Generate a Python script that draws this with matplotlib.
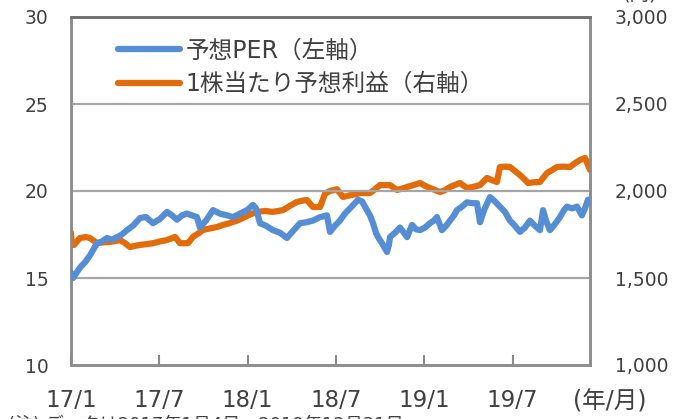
import matplotlib.pyplot as plt

plt.rcParams['font.family'] = ['DejaVu Sans', 'Noto Sans CJK JP']

# months elapsed since 2017/1 (position on the category axis)
per_months = [0.0, 0.14, 0.61, 0.95, 1.29, 1.77, 2.11, 2.45, 2.79, 3.13, 3.46, 3.80, 4.21, 4.69,
              5.10, 5.57, 6.05, 6.52, 6.86, 7.20, 7.54, 7.88, 8.22, 8.56, 8.76, 9.17, 9.65, 10.12,
              10.60, 11.01, 11.48, 11.96, 12.36, 12.57, 12.84, 13.25, 13.72, 14.20, 14.67, 15.08,
              15.56, 15.96, 16.44, 16.92, 17.39, 17.60, 17.93, 18.27, 18.61, 18.95, 19.29, 19.50,
              19.77, 19.97, 20.31, 20.52, 20.72, 20.86, 21.13, 21.33, 21.47, 21.60, 21.67, 22.01,
              22.35, 22.62, 22.83, 23.17, 23.44, 23.71, 24.05, 24.39, 24.66, 24.86, 25.20, 25.48,
              25.75, 26.02, 26.22, 26.56, 26.90, 27.24, 27.58, 27.79, 28.06, 28.47, 28.80, 29.14,
              29.48, 29.82, 30.16, 30.50, 30.84, 31.18, 31.52, 31.86, 32.07, 32.27, 32.54, 32.88,
              33.22, 33.49, 33.70, 34.04, 34.38, 34.71, 34.92, 35.12, 35.26]
per_values = [15.3, 15.0, 15.6, 15.9, 16.3, 17.0, 17.1, 17.3, 17.2, 17.35, 17.5, 17.75, 18.0, 18.45,
              18.5, 18.15, 18.4, 18.8, 18.6, 18.35, 18.6, 18.7, 18.6, 18.5, 17.9, 18.3, 18.9, 18.7,
              18.6, 18.5, 18.7, 18.9, 19.2, 19.0, 18.15, 18.0, 17.75, 17.6, 17.3, 17.7,
              18.15, 18.2, 18.3, 18.5, 18.6, 17.65, 18.0, 18.3, 18.7, 19.0, 19.3, 19.5,
              19.4, 19.1, 18.6, 18.15, 17.6, 17.35, 17.0, 16.7, 16.5, 16.9, 17.35, 17.6,
              17.9, 17.6, 17.35, 18.05, 17.8, 17.75, 17.9, 18.15, 18.3, 18.5, 17.75, 18.0,
              18.3, 18.6, 18.9, 19.1, 19.35, 19.3, 19.3, 18.2, 18.9, 19.65, 19.4, 19.1,
              18.8, 18.3, 18.0, 17.65, 17.9, 18.3, 18.0, 17.75, 18.9, 18.3, 17.75, 18.1,
              18.5, 18.9, 19.1, 19.0, 19.1, 18.6, 19.0, 19.5, 19.5]

eps_months = [0.0, 0.05, 0.2, 0.61, 1.02, 1.29, 1.77, 2.17, 2.65, 2.99, 3.33, 3.67, 4.01, 4.35,
              4.69, 5.16, 5.57, 6.05, 6.52, 7.07, 7.40, 7.95, 8.29, 8.63, 8.97, 9.44, 9.92, 10.33,
              10.80, 11.28, 11.68, 12.16, 12.64, 13.18, 13.72, 14.40, 14.88, 15.35, 15.76, 16.03,
              16.44, 16.92, 17.26, 17.60, 18.07, 18.48, 18.95, 19.63, 20.31, 20.65, 20.99, 21.67,
              22.15, 22.55, 22.83, 23.30, 23.71, 24.05, 24.39, 25.07, 25.41, 25.75, 26.09, 26.43,
              26.90, 27.38, 27.79, 28.26, 28.67, 28.94, 29.14, 29.48, 29.82, 30.16, 30.50, 30.84,
              31.05, 31.45, 31.86, 32.34, 32.68, 33.02, 33.42, 33.90, 34.24, 34.58, 34.92, 35.12,
              35.26]
eps_values = [1760, 1700, 1690, 1730, 1735, 1730, 1700, 1705, 1707, 1712, 1718, 1700, 1678, 1685,
              1690, 1695, 1700, 1710, 1718, 1736, 1700, 1700, 1736, 1755, 1776, 1785, 1793, 1805,
              1816, 1830, 1845, 1865, 1880, 1885, 1880, 1890, 1915, 1937, 1945, 1948,
              1908, 1908, 1985, 2000, 2010, 1966, 1975, 1988, 1988, 2010, 2034, 2034,
              2006, 2015, 2023, 2035, 2046, 2030, 2017, 1994, 2005, 2023, 2035, 2046,
              2017, 2025, 2034, 2075, 2060, 2052, 2138, 2140, 2138, 2115, 2092, 2065,
              2046, 2050, 2052, 2103, 2120, 2138, 2140, 2138, 2160, 2178, 2190, 2150,
              2121]

tick_months = [0, 6, 12, 18, 24, 30]
tick_labels = ['17/1', '17/7', '18/1', '18/7', '19/1', '19/7']

blue = '#558ED5'
orange = '#E36C0A'
grid_c = '#A6A6A6'
axis_c = '#8C8C8C'
text_c = '#404040'

fig = plt.figure(figsize=(6.78, 4.19), dpi=100)
ax = fig.add_axes([71 / 678, 1 - 365 / 419, 519 / 678, 348 / 419])
ax2 = ax.twinx()

l1, = ax.plot(per_months, per_values, color=blue, lw=4.5, solid_capstyle='round', zorder=3)
l2, = ax2.plot(eps_months, eps_values, color=orange, lw=4.5, solid_capstyle='round', zorder=3)

ax.set_xlim(0, 35.26)
ax.set_ylim(10, 30)
ax2.set_ylim(1000, 3000)
ax.set_yticks([10, 15, 20, 25, 30])
ax2.set_yticks([1000, 1500, 2000, 2500, 3000])
ax2.set_yticklabels(['1,000', '1,500', '2,000', '2,500', '3,000'])
ax.set_xticks(tick_months)
ax.set_xticklabels(tick_labels)

for y in [15, 20, 25]:
    ax.axhline(y, color=grid_c, lw=1.6, zorder=1)

for a in (ax, ax2):
    for s in a.spines.values():
        s.set_color(axis_c)
        s.set_linewidth(1.8)
    a.spines['top'].set_color('#6E6E6E')
ax.tick_params(axis='x', direction='in', length=7, width=1.5, color=axis_c,
               pad=17, labelsize=16.5, labelcolor=text_c)
ax.tick_params(axis='y', length=0, pad=16, labelsize=13.5, labelcolor=text_c)
ax2.tick_params(axis='y', length=0, pad=18, labelsize=13.5, labelcolor=text_c)

ax.set_zorder(ax2.get_zorder() + 1)
ax.patch.set_visible(False)

leg = ax.legend([l1, l2], ['予想PER（左軸）', '1株当たり予想利益（右軸）'],
                loc='upper left', bbox_to_anchor=(38 / 519, 1 - 12 / 348),
                frameon=False, fontsize=17, handlelength=2.6, handletextpad=0.25,
                labelspacing=0.4, borderaxespad=0)
for t in leg.get_texts():
    t.set_color(text_c)

fig.text(610 / 678, 1 - 401 / 419, '(年/月)', fontsize=17, color=text_c,
         ha='center', va='center')
fig.text(640 / 678, 1 - 3 / 419, '(円)', fontsize=14, color=text_c,
         ha='center', va='bottom')
fig.text(8 / 678, 1 - 416 / 419, '(注) データは2017年1月4日～2019年12月31日', fontsize=13,
         color=text_c, ha='left', va='top')

fig.savefig('out.png', dpi=100)
